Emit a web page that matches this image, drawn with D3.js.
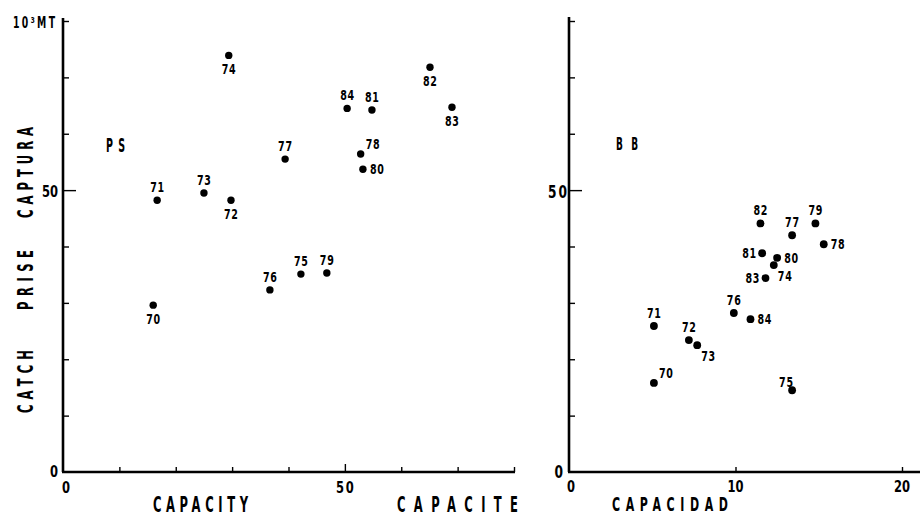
<!DOCTYPE html>
<html><head><meta charset="utf-8">
<script src="https://cdn.jsdelivr.net/npm/d3@7"></script>
<style>body{margin:0;background:#fff}svg{display:block}</style>
</head><body><svg id="c" width="920" height="516"></svg>
<script>
// ---- data ----
const years      = ["70","71","72","73","74","75","76","77","78","79","80","81","82","83","84"];
const psCapacity = [16.0, 16.7, 29.8, 25.0, 29.4, 42.2, 36.7, 39.4, 52.8, 46.8, 53.2, 54.8, 65.1, 69.0, 50.4];
const psCatch    = [29.6, 48.2, 48.2, 49.5, 73.9, 35.1, 32.3, 55.5, 56.4, 35.3, 53.7, 64.2, 71.8, 64.7, 64.5];
const psLabelPos = ["s","n","s","n","s","n","n","n","ne","n","e","n","s","s","n"];
const bbCapacity = [5.1, 5.1, 7.2, 7.7, 12.3, 13.4, 9.9, 13.4, 15.3, 14.8, 12.5, 11.6, 11.5, 11.8, 10.9];
const bbCatch    = [15.8, 25.9, 23.4, 22.5, 36.7, 14.5, 28.2, 42.0, 40.4, 44.1, 38.0, 38.8, 44.1, 34.4, 27.1];
const bbLabelPos = ["ne","n","n","se","se","nw","n","n","e","n","e","w","n","w","e"];
const yTicks     = [10,20,30,40,50,60,70,80];
const psXTicks   = [10,20,30,40,50,60,70,80];
const bbXTicks   = [10,20];
const yTickLabels  = [0, 50];
const psXTickLabels = [0, 50];
const bbXTickLabels = [0, 10, 20];

// ---- layout ----
const svg = d3.select("#c");
const FONT = "'DejaVu Sans', 'Liberation Sans', sans-serif";
const y   = d3.scaleLinear().domain([0,80]).range([472,21]);
const xL  = d3.scaleLinear().domain([0,80]).range([63,514]);
const xR  = d3.scaleLinear().domain([0,20]).range([569,902]);

// condensed, letter-spaced text: glyphs squeezed by sx, spacing fills length
function txt(s, x, yy, size, len, anchor, sx, rotate) {
  const g = svg.append("g")
    .attr("transform", `translate(${x},${yy}) rotate(${rotate ? -90 : 0}) scale(${sx},1)`);
  g.append("text")
    .attr("x", 0).attr("y", 0)
    .attr("font-family", FONT).attr("font-weight", "bold")
    .attr("font-size", size).attr("fill", "#000")
    .attr("text-anchor", anchor || "start")
    .attr("textLength", len / sx)
    .attr("lengthAdjust", "spacing")
    .text(s);
  return g;
}

const place = {
  n:  {a:"middle", dx:0,  dy:-8},
  s:  {a:"middle", dx:0,  dy:19},
  e:  {a:"start",  dx:7,  dy:5},
  w:  {a:"end",    dx:-6, dy:5},
  ne: {a:"start",  dx:5,  dy:-5},
  se: {a:"start",  dx:4,  dy:16},
  nw: {a:"end",    dx:1,  dy:-3}
};

function panel(x, xTicks, yTop, xEnd, caps, cats, pos, r) {
  const g = svg.append("g");
  g.append("line").attr("x1", x(0)).attr("x2", x(0)).attr("y1", yTop).attr("y2", y(0))
    .attr("stroke", "#000").attr("stroke-width", 2.6);
  g.append("line").attr("x1", x(0) - 1).attr("x2", xEnd).attr("y1", y(0)).attr("y2", y(0))
    .attr("stroke", "#000").attr("stroke-width", 2.6);
  const ya = d3.axisRight(y).tickValues(yTicks).tickSize(6).tickFormat("");
  const ga = g.append("g").attr("transform", `translate(${x(0)},0)`).call(ya);
  ga.select(".domain").remove();
  ga.selectAll(".tick line").attr("stroke-width", 1.4)
    .attr("x2", d => d === 50 ? 13 : 6);
  const xa = d3.axisTop(x).tickValues(xTicks).tickSize(5).tickFormat("");
  const gx = g.append("g").attr("transform", `translate(0,${y(0)})`).call(xa);
  gx.select(".domain").remove();
  gx.selectAll(".tick line").attr("stroke-width", 1.4)
    .attr("y2", d => d === 50 ? -8 : -5);
  g.selectAll("circle").data(caps).join("circle")
    .attr("cx", (d) => x(d)).attr("cy", (d, i) => y(cats[i]))
    .attr("r", r).attr("fill", "#000");
  caps.forEach((c, i) => {
    const p = place[pos[i]];
    txt(years[i], x(c) + p.dx, y(cats[i]) + p.dy, 14, 14, p.a, 0.68);
  });
}

panel(xL, psXTicks, 18, 515, psCapacity, psCatch, psLabelPos, 3.7);
panel(xR, bbXTicks, 17, 920, bbCapacity, bbCatch, bbLabelPos, 3.9);

// tick labels
yTickLabels.forEach(v => txt(String(v), 58, y(v) + (v === 0 ? 5 : 7), 16, v === 0 ? 8 : 16, "end", 0.72));
yTickLabels.forEach(v => txt(String(v), v === 0 ? 563 : 567, y(v) + (v === 0 ? 6 : 8), 17, v === 0 ? 7 : 19, "end", 0.72));
psXTickLabels.forEach(v => txt(String(v), v === 0 ? xL(v) + 3 : xL(v), 493, 16, v === 0 ? 8 : 18, "middle", 0.72));
bbXTickLabels.forEach(v => txt(String(v), v === 0 ? xR(v) + 2 : xR(v), 492, 16, v === 0 ? 7 : 16, "middle", 0.72));

// units
txt("10³MT", 13, 28, 15, 42, "start", 0.62);

// panel tags
txt("PS", 106, 152, 19, 19, "start", 0.5);
txt("BB", 616, 150, 18, 22, "start", 0.5);

// axis titles
txt("CAPACITY", 153, 512, 21, 95, "start", 0.55);
txt("CAPACITE", 397, 512, 21, 121, "start", 0.55);
txt("CAPACIDAD", 612, 511, 20, 116, "start", 0.55);

// y title (rotated)
txt("CATCH", 33, 413, 21, 63, "start", 0.55, true);
txt("PRISE", 33, 310, 21, 60, "start", 0.55, true);
txt("CAPTURA", 33, 218, 21, 91, "start", 0.55, true);
</script>
</body></html>
